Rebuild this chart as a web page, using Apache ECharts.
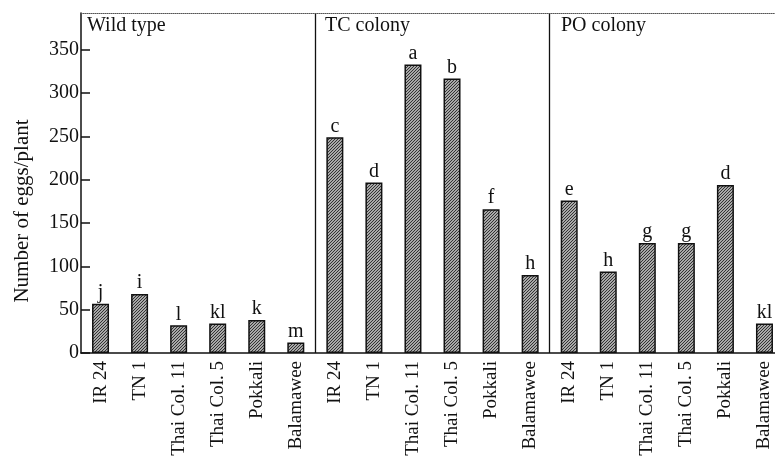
<!DOCTYPE html>
<html>
<head>
<meta charset="utf-8">
<script src="https://cdn.jsdelivr.net/npm/echarts@6/dist/echarts.min.js"></script>
<style>
  html, body { margin: 0; padding: 0; background: #fff; }
  #chart { width: 775px; height: 467px; }
</style>
</head>
<body>
<div id="chart"></div>
<script>
// data
const cultivars = ['IR 24', 'TN 1', 'Thai Col. 11', 'Thai Col. 5', 'Pokkali', 'Balamawee']
const panelNames = ['Wild type', 'TC colony', 'PO colony']
const wildEggs = [57, 68, 32, 34, 38, 12]
const tcEggs = [249, 197, 333, 317, 166, 90]
const poEggs = [176, 94, 127, 127, 194, 34]
const wildLetters = ['j', 'i', 'l', 'kl', 'k', 'm']
const tcLetters = ['c', 'd', 'a', 'b', 'f', 'h']
const poLetters = ['e', 'h', 'g', 'g', 'd', 'kl']
const yTicks = [0, 50, 100, 150, 200, 250, 300, 350]

const categories = [].concat(cultivars, cultivars, cultivars)
const values = [].concat(wildEggs, tcEggs, poEggs)
const letters = [].concat(wildLetters, tcLetters, poLetters)

// hatched fill for the bars
function hatch() {
    let c = document.createElement('canvas')
    c.width = 3
    c.height = 3
    let ctx = c.getContext('2d')
    ctx.fillStyle = '#a8a8a8'
    ctx.fillRect(0, 0, 3, 3)
    ctx.fillStyle = '#333'
    ctx.fillRect(0, 2, 1, 1)
    ctx.fillRect(1, 1, 1, 1)
    ctx.fillRect(2, 0, 1, 1)
    return c
}

const font = '"Liberation Serif", "DejaVu Serif", serif'
let chart = echarts.init(document.getElementById('chart'))

chart.setOption({
    animation: false,
    grid: { left: 81, top: 13, width: 703, bottom: 114, outerBoundsMode: 'none' },
    xAxis: [
        {
            type: 'category',
            data: categories,
            axisLine: { lineStyle: { color: '#111', width: 1.5 } },
            axisTick: { inside: true, length: 5, lineStyle: { color: '#111' } },
            axisLabel: {
                rotate: 90, interval: 0, margin: 8,
                color: '#111', fontFamily: font, fontSize: 19
            },
            splitLine: {
                show: true,
                interval: (i) => i === 6 || i === 12,
                lineStyle: { color: '#111', width: 1.3 }
            }
        },
        {
            type: 'category',
            position: 'top',
            data: categories,
            axisLine: { lineStyle: { color: '#555', width: 1, type: [1, 1] } },
            axisTick: { show: false },
            axisLabel: { show: false }
        }
    ],
    yAxis: {
        type: 'value',
        min: 0,
        max: 392.6,
        interval: 50,
        name: 'Number of eggs/plant',
        nameLocation: 'middle',
        nameGap: 48,
        nameTextStyle: { color: '#111', fontFamily: font, fontSize: 21, padding: [0, 56, 0, 0] },
        axisLine: { show: true, lineStyle: { color: '#111', width: 1.5 } },
        axisTick: { show: true, inside: true, length: 9, customValues: yTicks, lineStyle: { color: '#111', width: 1.5 } },
        axisLabel: { customValues: yTicks, margin: 2, color: '#111', fontFamily: font, fontSize: 20 },
        splitLine: { show: false }
    },
    graphic: panelNames.map((name, i) => ({
        type: 'text',
        left: [87, 325, 561][i],
        top: 16,
        style: { text: name, font: '20px ' + font, fill: '#111' }
    })),
    series: [{
        type: 'bar',
        data: values,
        barWidth: 17,
        itemStyle: {
            color: { image: hatch(), repeat: 'repeat' },
            borderColor: '#111',
            borderWidth: 1.5
        },
        label: {
            show: true,
            position: 'top',
            distance: 1,
            formatter: (p) => letters[p.dataIndex],
            color: '#111',
            fontFamily: font,
            fontSize: 20
        }
    }]
})
</script>
</body>
</html>
